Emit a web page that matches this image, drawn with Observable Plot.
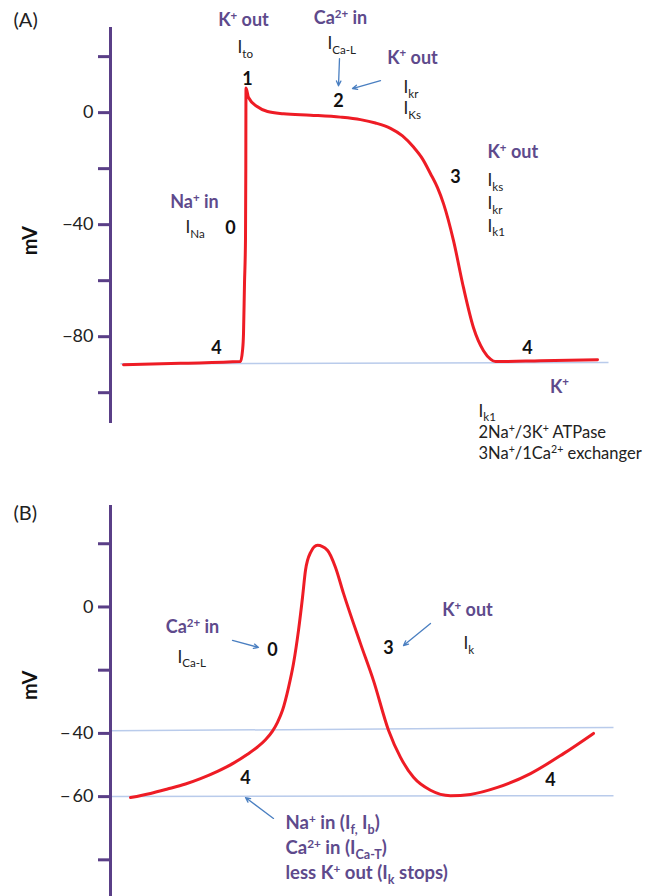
<!DOCTYPE html>
<html><head><meta charset="utf-8">
<script src="https://cdn.jsdelivr.net/npm/d3@7"></script>
<script src="https://cdn.jsdelivr.net/npm/@observablehq/plot@0.6"></script>
<style>body{margin:0;background:#fff} #chart svg{display:block}</style>
</head><body><div id="chart"></div><script>
// ---------- data: panel A (ventricular action potential) ----------
const timeA = [13, 70, 130, 132, 133, 134, 135, 135.3, 135.4, 135.5, 138, 147, 157, 173, 200, 230, 250, 265, 280, 292, 303, 312, 320, 327, 333, 343, 353, 363, 373, 380, 385, 430, 487];
const mvA   = [-90, -89.5, -88.9, -85, -79, -61, -45, -20, 0, 8.8, 5.4, 2.1, 0.4, -0.4, -0.9, -1.6, -2.5, -3.7, -5.6, -8.3, -12.3, -16.5, -21.8, -26.8, -32.5, -45.7, -62.5, -76.8, -85, -88, -88.9, -88.6, -88.2];
const ticksA = [20, 0, -20, -40, -60, -80, -100];
const tickLabelsA = {"0": "0", "-40": "\u221240", "-80": "\u221280"};
const restLineA = {x1: [10], y1: [-89.7], x2: [498], y2: [-89.2]};

// ---------- data: panel B (pacemaker / nodal action potential) ----------
const timeB = [20, 40, 57, 75, 90, 107, 123, 137, 147, 155, 162, 167, 172, 178, 183, 188, 192, 195, 200, 207, 217, 225, 233, 250, 263, 278, 290, 303, 320, 340, 360, 387, 420, 453, 483];
const mvB   = [-60.3, -59.0, -57.6, -56.0, -54.3, -52.0, -49.4, -46.6, -44.3, -42.0, -39.3, -36.5, -32.7, -25.5, -17.9, -7.4, 3, 11.6, 17.2, 19.5, 17.9, 12.5, 4.3, -11.6, -23.3, -39, -47.6, -53.9, -58, -59.7, -59.3, -57.1, -52.7, -46.4, -40];
const ticksB = [20, 0, -20, -40, -60, -80];
const tickLabelsB = {"0": "0", "-40": "\u2212\u200940", "-60": "\u2212\u200960"};
const refLinesB = {x1: [0, 0], y1: [-39.2, -60], x2: [503, 503], y2: [-38.1, -59.7]};

// ---------- annotations (text in markup: ^{sup}, _{sub}) ----------
const ionCenterA = [
  {t: 133, v: 32.9, label: "K^{+} out"},
  {t: 230, v: 33.6, label: "Ca^{2+} in"},
  {t: 302, v: 19.6, label: "K^{+} out"},
  {t: 84, v: -32.1, label: "Na^{+} in"},
  {t: 449, v: -97.9, label: "K^{+}"}
];
const ionLeftA = [{t: 377, v: -14.3, label: "K^{+} out"}];
const currentA = [
  {t: 127, v: 23.2, label: "I_{to}"},
  {t: 217, v: 24.6, label: "I_{Ca-L}"},
  {t: 293, v: 8.9, label: "I_{kr}"},
  {t: 293, v: 1.4, label: "I_{Ks}"},
  {t: 377, v: -24.3, label: "I_{ks}"},
  {t: 377, v: -32.5, label: "I_{kr}"},
  {t: 377, v: -40.7, label: "I_{k1}"},
  {t: 75, v: -41.1, label: "I_{Na}"},
  {t: 368, v: -106.6, label: "I_{k1}"}
];
const pumpNotesA = [
  {t: 368, v: -114.4, label: "2Na^{+}/3K^{+} ATPase"},
  {t: 368, v: -121.8, label: "3Na^{+}/1Ca^{2+} exchanger"}
];
const phaseA = [
  {t: 137, v: 12.1, label: "1"},
  {t: 228, v: 3.9, label: "2"},
  {t: 345, v: -22.9, label: "3"},
  {t: 120, v: -41.1, label: "0"},
  {t: 106, v: -84.3, label: "4"},
  {t: 417, v: -84.3, label: "4"}
];
const arrowsA = [
  {t1: 229, v1: 19.3, t2: 228, v2: 9.6},
  {t1: 270, v1: 11.4, t2: 242, v2: 8.6}
];

const ionCenterB = [
  {t: 82, v: -6.5, label: "Ca^{2+} in"},
  {t: 357, v: -1.1, label: "K^{+} out"}
];
const ionLeftB = [
  {t: 175, v: -68.5, label: "Na^{+} in (I_{f,} I_{b})"},
  {t: 175, v: -76.4, label: "Ca^{2+} in (I_{Ca-T})"},
  {t: 175, v: -84.3, label: "less K^{+} out (I_{k} stops)"}
];
const currentB = [
  {t: 67, v: -16, label: "I_{Ca-L}"},
  {t: 353, v: -11.6, label: "I_{k}"}
];
const phaseB = [
  {t: 162, v: -13.8, label: "0"},
  {t: 278, v: -13.1, label: "3"},
  {t: 135, v: -54.3, label: "4"},
  {t: 440, v: -54.9, label: "4"}
];
const arrowsB = [
  {t1: 122, v1: -10.6, t2: 148, v2: -12.8},
  {t1: 320, v1: -5.2, t2: 293, v2: -12.2},
  {t1: 163, v1: -66.9, t2: 135, v2: -60.3}
];

// ---------- styles ----------
const PURPLE = "#5e4a8c", AXIS = "#5a3f87", RED = "#ee1c25", ARROW = "#4a7fc1", BLUE = "#b9cbeb", INK = "#222";
const FONT = "Lato, 'Open Sans', sans-serif";

function commonMarks(time, mv, ticks, tickLabels, yTop, yBot, ionC, ionL, ionLSize, cur, phase, arrows, panel, panelV, mvV) {
  return [
    Plot.ruleX([0], {y1: yBot, y2: yTop, stroke: AXIS, strokeWidth: 3}),
    Plot.axisY(ticks, {tickSize: 12, tickPadding: 5, tickFormat: d => tickLabels[String(d)] || "",
      stroke: AXIS, strokeWidth: 3, fill: INK, fontSize: 18, label: null}),
    Plot.line(time, {x: time, y: mv, stroke: RED, strokeWidth: 3, curve: "monotone-x"}),
    Plot.arrow(arrows, {x1: "t1", y1: "v1", x2: "t2", y2: "v2", stroke: ARROW, strokeWidth: 1.3, headLength: 6, headAngle: 50}),
    Plot.text(ionC, {x: "t", y: "v", text: "label", fill: PURPLE, fontWeight: 700, fontSize: 18}),
    Plot.text(ionL, {x: "t", y: "v", text: "label", fill: PURPLE, fontWeight: 700, fontSize: ionLSize, textAnchor: "start"}),
    Plot.text(cur, {x: "t", y: "v", text: "label", fill: INK, fontSize: 17, textAnchor: "start"}),
    Plot.text(phase, {x: "t", y: "v", text: "label", fill: "#111", fontWeight: 700, fontSize: 18}),
    Plot.text([panel], {x: -97, y: panelV, text: d => d, fill: INK, fontSize: 20, textAnchor: "start"}),
    Plot.text(["mV"], {x: -80, y: mvV, text: d => d, fill: "#111", fontWeight: 700, fontSize: 20, rotate: -90})
  ];
}

const plotA = Plot.plot({
  width: 658, height: 490,
  marginLeft: 110, marginRight: 48, marginTop: 27, marginBottom: 67,
  x: {domain: [0, 500], axis: null},
  y: {domain: [-111, 30.4]},
  style: {fontFamily: FONT, background: "#fff"},
  marks: [
    Plot.link([0], {x1: restLineA.x1, y1: restLineA.y1, x2: restLineA.x2, y2: restLineA.y2, stroke: BLUE, strokeWidth: 1.5}),
    ...commonMarks(timeA, mvA, ticksA, tickLabelsA, 30.4, -111, ionCenterA, ionLeftA, 18, currentA, phaseA, arrowsA, "(A)", 32.9, -45.7),
    Plot.text(pumpNotesA, {x: "t", y: "v", text: "label", fill: INK, fontSize: 16.5, textAnchor: "start"})
  ]
});

const plotB = Plot.plot({
  width: 658, height: 406,
  marginLeft: 110, marginRight: 48, marginTop: 15, marginBottom: 0,
  x: {domain: [0, 500], axis: null},
  y: {domain: [-91.6, 32.1]},
  style: {fontFamily: FONT, background: "#fff"},
  marks: [
    Plot.link([0, 1], {x1: refLinesB.x1, y1: refLinesB.y1, x2: refLinesB.x2, y2: refLinesB.y2, stroke: BLUE, strokeWidth: 1.5}),
    ...commonMarks(timeB, mvB, ticksB, tickLabelsB, 32.1, -91.6, ionCenterB, ionLeftB, 18.5, currentB, phaseB, arrowsB, "(B)", 29.6, -24.8)
  ]
});

const host = document.getElementById("chart");
host.appendChild(plotA);
host.appendChild(plotB);

// turn ^{..} and _{..} markup into real superscript/subscript tspans
function richify(svg) {
  const NS = "http://www.w3.org/2000/svg";
  svg.querySelectorAll("text").forEach(t => {
    const s = t.textContent;
    if (!/[_^]\{/.test(s)) return;
    const fs = parseFloat(getComputedStyle(t).fontSize) || 16;
    while (t.firstChild) t.removeChild(t.firstChild);
    const re = /([_^])\{([^}]*)\}|([^_^]+)/g;
    let m, shift = 0;
    while ((m = re.exec(s))) {
      const ts = document.createElementNS(NS, "tspan");
      let target = 0, size = null, txt;
      if (m[1] === "^") { target = -0.36 * fs; size = 0.64 * fs; txt = m[2]; }
      else if (m[1] === "_") { target = 0.26 * fs; size = 0.68 * fs; txt = m[2]; }
      else { txt = m[3]; }
      const dy = target - shift;
      if (dy) ts.setAttribute("dy", dy.toFixed(2));
      if (size) ts.setAttribute("font-size", size.toFixed(1));
      shift = target;
      ts.textContent = txt;
      t.appendChild(ts);
    }
  });
}
richify(plotA);
richify(plotB);
</script></body></html>
